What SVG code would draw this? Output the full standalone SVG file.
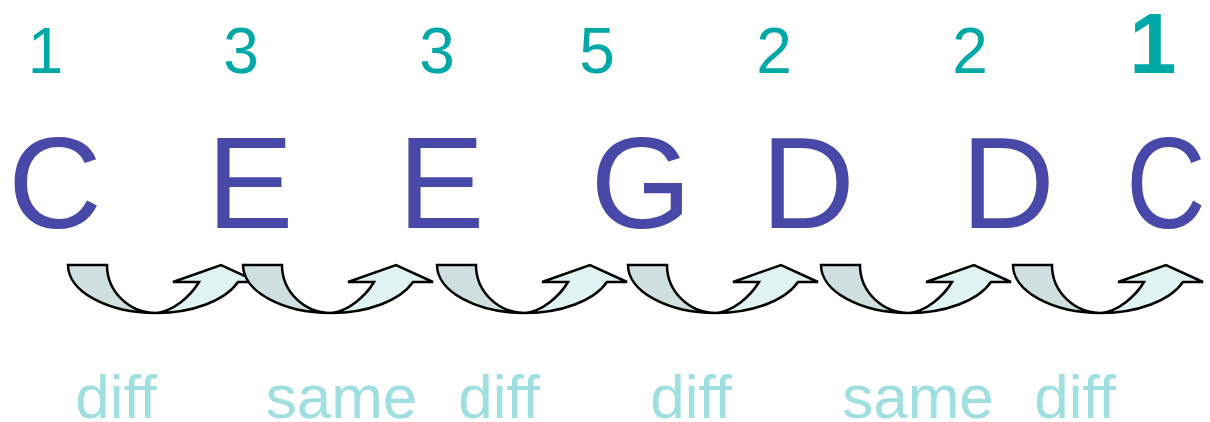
<svg xmlns="http://www.w3.org/2000/svg" xmlns:xlink="http://www.w3.org/1999/xlink" width="1210" height="422" viewBox="0 0 1210 422">
<style>
.num{font-family:"Liberation Sans",Arial,sans-serif;font-size:64px;fill:#00a8a8;text-anchor:middle}
.numb{font-family:"Liberation Sans",Arial,sans-serif;font-size:85px;font-weight:bold;fill:#00a8a8;text-anchor:middle}
.note{font-family:"Liberation Sans",Arial,sans-serif;font-size:130px;fill:#4848a8;text-anchor:middle}
.lbl{font-family:"Liberation Sans",Arial,sans-serif;font-size:62px;fill:#a0dfdf;text-anchor:middle}
.tail{fill:#cfdfe0;stroke:#000;stroke-width:2.5;stroke-linejoin:miter}
.band{fill:#e0f3f3;stroke:#000;stroke-width:2.5;stroke-linejoin:miter}
</style>
<defs>
<g id="curvedArrow">
<path class="band" d="M88,48 A87.9,48 0 0 0 170,17 L190,17 L153,0 L105,17 L131,17 C122,32 105,46 88,48 Z"/>
<path class="tail" d="M0,0 L39,0 A49,48 0 0 0 88,48 A87.9,48 0 0 1 0,0 Z"/>
</g>
</defs>
<g id="numbers">
<text class="num" x="45.5" y="73">1</text>
<text class="num" x="241" y="73">3</text>
<text class="num" x="437" y="73">3</text>
<text class="num" x="597" y="73">5</text>
<text class="num" x="774" y="73">2</text>
<text class="num" x="970" y="73">2</text>
<text class="numb" x="1153" y="73">1</text>
</g>
<g id="note1"><text class="note" x="55" y="228">C</text></g>
<g id="note2"><text class="note" x="250" y="228">E</text></g>
<g id="note3"><text class="note" x="441" y="228">E</text></g>
<g id="note4"><text class="note" x="641" y="228">G</text></g>
<g id="note5"><text class="note" x="808" y="228">D</text></g>
<g id="note6"><text class="note" x="1008" y="228">D</text></g>
<g id="note7"><text class="note" transform="translate(1166,228) scale(0.85,1)" x="0" y="0">C</text></g>
<g id="connectors">
<use xlink:href="#curvedArrow" transform="translate(68,265)"/>
<use xlink:href="#curvedArrow" transform="translate(243,265)"/>
<use xlink:href="#curvedArrow" transform="translate(437,265)"/>
<use xlink:href="#curvedArrow" transform="translate(628,265)"/>
<use xlink:href="#curvedArrow" transform="translate(821,265)"/>
<use xlink:href="#curvedArrow" transform="translate(1013,265)"/>
</g>
<g id="labels">
<text class="lbl" x="116" y="418">diff</text>
<text class="lbl" x="341.5" y="418">same</text>
<text class="lbl" x="499" y="418">diff</text>
<text class="lbl" x="691" y="418">diff</text>
<text class="lbl" x="918" y="418">same</text>
<text class="lbl" x="1075" y="418">diff</text>
</g>
</svg>
